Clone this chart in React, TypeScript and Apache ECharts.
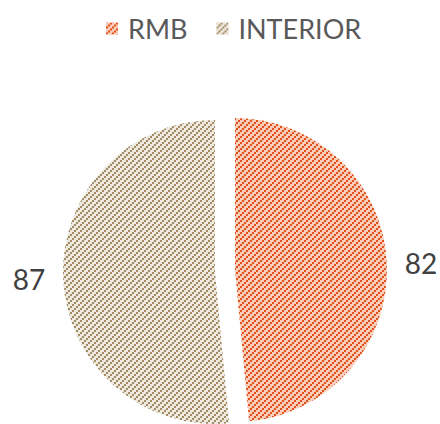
import React, { useEffect, useRef } from "react";
import * as echarts from "echarts";

const categories = ["RMB", "INTERIOR"];
const values = [82, 87];
const darkColors = ["#E0501C", "#A38B62"];
const lightColors = ["#F9CDB8", "#EDE9E0"];

function makePattern(dark: string, light: string) {
  const period = 6;
  const size = 24;
  const c = document.createElement("canvas");
  c.width = size;
  c.height = size;
  const ctx = c.getContext("2d")!;
  ctx.fillStyle = light;
  ctx.fillRect(0, 0, size, size);
  ctx.fillStyle = dark;
  for (let y = 0; y < size; y += 2) {
    for (let x = 0; x < size; x += 2) {
      if ((x + y + 2) % period === 0) ctx.fillRect(x, y, 2, 2);
    }
  }
  return {
    type: "pattern",
    image: c,
    repeat: "repeat",
  } as any;
}

export default function App() {
  const ref = useRef<HTMLDivElement>(null);
  useEffect(() => {
    if (!ref.current) return;
    const chart = echarts.init(ref.current, undefined, { renderer: "svg" });
    const label = {
      show: true,
      position: "outside",
      formatter: "{c}",
      fontFamily: "Lato",
      fontSize: 28,
      color: "#404040",
      overflow: "none",
    };
    const hidden = {
      itemStyle: { color: "rgba(0,0,0,0)" },
      label: { show: false },
      labelLine: { show: false },
    };
    const centers = [
      [235, 270],
      [215, 272],
    ];
    const series = categories.map((name, i) => ({
      type: "pie",
      name: "part" + i,
      center: centers[i],
      radius: [0, 152],
      startAngle: 90,
      clockwise: true,
      silent: true,
      data: categories.map((n, j) =>
        j === i
          ? {
              name: n,
              value: values[j],
              itemStyle: { color: makePattern(darkColors[j], lightColors[j]) },
            }
          : { name: "_" + n, value: values[j], ...hidden }
      ),
      label,
      labelLine: { show: false, length: 5, length2: 8 },
      emphasis: { disabled: true },
    }));
    chart.setOption({
      animation: false,
      backgroundColor: "#ffffff",
      legend: {
        data: categories,
        left: 101,
        top: 10,
        icon: "rect",
        itemWidth: 12,
        itemHeight: 12,
        itemGap: 29,
        textStyle: {
          fontFamily: "Lato",
          fontSize: 27,
          color: "#595959",
          padding: [0, 0, 0, 5],
        },
      },
      series,
    });
    return () => chart.dispose();
  }, []);
  return (
    <div
      ref={ref}
      style={{ position: "fixed", left: 0, top: 0, width: 440, height: 424 }}
    />
  );
}
